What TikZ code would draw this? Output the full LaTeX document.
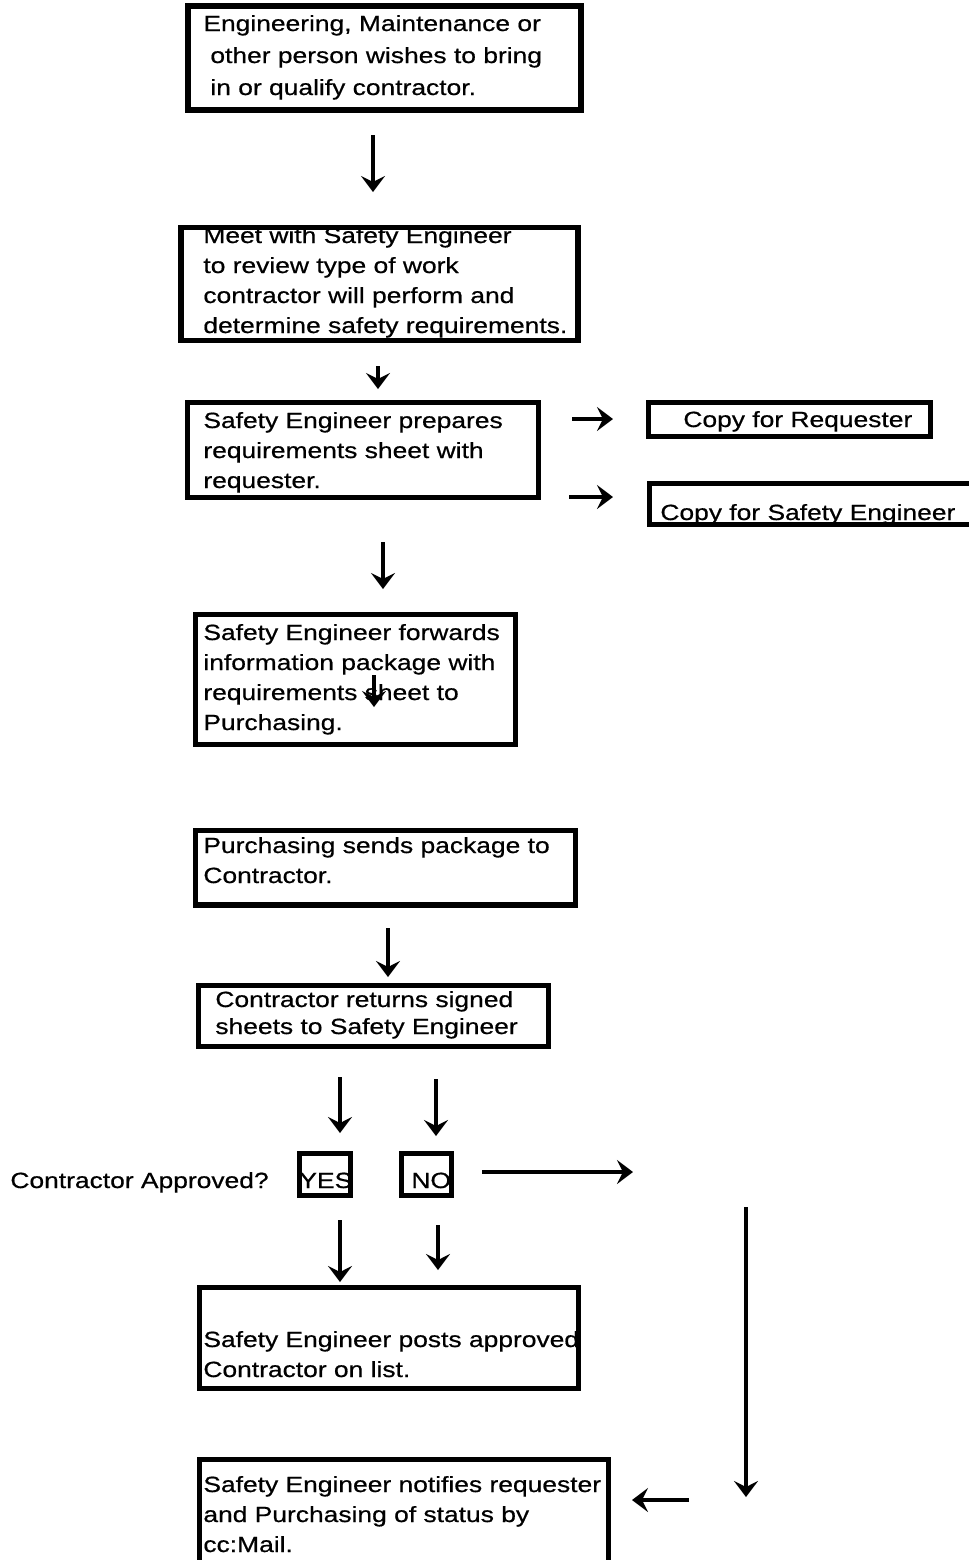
\documentclass[tikz,border=0pt]{standalone}
\usepackage{fontspec}
\newfontfamily\flowfont[FakeStretch=1.2,FakeBold=0.6]{Liberation Sans}
\usetikzlibrary{arrows.meta}
\newcommand{\boxlines}[1]{\begin{tabular}[t]{@{}l@{}}#1\end{tabular}}

\begin{document}
\begin{tikzpicture}[x=0.5pt,y=-0.5pt,
    box/.style={draw,line width=2.75pt,inner sep=0pt},
    txt/.style={anchor=base west,inner sep=0pt,font=\flowfont\fontsize{11pt}{15pt}\selectfont},
    arr/.style={line width=2.2pt,-{Stealth[length=8pt,width=12pt,inset=3pt]}}]
            \useasboundingbox (0,0) rectangle (969,1560);
            \clip (0,0) rectangle (969,1560);
            % texts
            \node[txt] (t1) at (203,31) {\boxlines{Engineering, Maintenance or\\[1pt] \hspace{3.5pt}other person wishes to bring\\[1pt] \hspace{3.5pt}in or qualify contractor.}};
            \node[txt] (t2) at (203,243) {\boxlines{Meet with Safety Engineer\\ to review type of work\\ contractor will perform and\\ determine safety requirements.}};
            \node[txt] (t3) at (203,428) {\boxlines{Safety Engineer prepares\\ requirements sheet with\\ requester.}};
            \node[txt] (tcr) at (683,427) {Copy for Requester};
            \node[txt] (tcse) at (660,520) {Copy for Safety Engineer};
            \node[txt] (t4) at (203,640) {\boxlines{Safety Engineer forwards\\ information package with\\ requirements sheet to\\ Purchasing.}};
            \node[txt] (t5) at (203,853) {\boxlines{Purchasing sends package to\\ Contractor.}};
            \node[txt] (t6) at (215,1007) {\boxlines{Contractor returns signed\\[-1.5pt] sheets to Safety Engineer}};
            \node[txt] (tq) at (10,1188) {Contractor Approved?};
            \node[txt] (tyes) at (299,1188) {YES};
            \node[txt] (tno) at (411,1188) {NO};
            \node[txt] (t7) at (203,1347) {\boxlines{Safety Engineer posts approved\\ Contractor on list.}};
            \node[txt] (t8) at (203,1492) {\boxlines{Safety Engineer notifies requester\\ and Purchasing of status by\\ cc:Mail.}};
            % boxes
            \node[box,line width=3pt,minimum width=196.5pt,minimum height=52.25pt] (b1) at (384,57.75) {};
            \node[box,minimum width=198.5pt,minimum height=56.5pt] (b2) at (379.5,284) {};
            \node[box,minimum width=175.5pt,minimum height=47.5pt] (b3) at (363,450) {};
            \node[box,minimum width=141pt,minimum height=17pt] (cr) at (789.5,419.5) {};
            \node[box,minimum width=162.5pt,minimum height=20.5pt] (cse) at (812,504) {};
            \node[box,minimum width=160pt,minimum height=65pt] (b4) at (355.5,679.5) {};
            \node[box,minimum width=190pt,minimum height=37.25pt] (b5) at (385.5,867.75) {};
            \node[box,minimum width=175pt,minimum height=30.5pt] (b6) at (373.5,1016) {};
            \node[box,minimum width=25.5pt,minimum height=21pt] (yes) at (325,1174.5) {};
            \node[box,minimum width=25pt,minimum height=21pt] (no) at (426.5,1174.5) {};
            \node[box,minimum width=189.5pt,minimum height=50.5pt] (b7) at (389,1338) {};
            \node[box,minimum width=204.5pt,minimum height=70.5pt] (b8) at (404,1530) {};
            % arrow ends
            \path (373,135) coordinate (a1s) (373,192) coordinate (a1e);
            \path (378,366) coordinate (a2s) (378,389) coordinate (a2e);
            \path (572,419) coordinate (r1s) (613,419) coordinate (r1e);
            \path (569,497) coordinate (r2s) (613,497) coordinate (r2e);
            \path (383,542) coordinate (a3s) (383,589) coordinate (a3e);
            \path (374,675) coordinate (a4s) (374,707) coordinate (a4e);
            \path (388,928) coordinate (a5s) (388,977) coordinate (a5e);
            \path (340,1077) coordinate (a6s) (340,1133) coordinate (a6e);
            \path (436,1079) coordinate (a7s) (436,1136) coordinate (a7e);
            \path (482,1172) coordinate (nos) (633,1172) coordinate (noe);
            \path (340,1220) coordinate (a8s) (340,1282) coordinate (a8e);
            \path (438,1225) coordinate (a9s) (438,1270) coordinate (a9e);
            \path (746,1207) coordinate (vs) (746,1497) coordinate (ve);
            \path (689,1500) coordinate (ls) (632,1500) coordinate (le);
            % arrows
            \draw[arr] (a1s) -- (a1e);
            \draw[arr] (a2s) -- (a2e);
            \draw[arr] (r1s) -- (r1e);
            \draw[arr] (r2s) -- (r2e);
            \draw[arr] (a3s) -- (a3e);
            \draw[arr] (a4s) -- (a4e);
            \draw[arr] (a5s) -- (a5e);
            \draw[arr] (a6s) -- (a6e);
            \draw[arr] (a7s) -- (a7e);
            \draw[arr] (nos) -- (noe);
            \draw[arr] (a8s) -- (a8e);
            \draw[arr] (a9s) -- (a9e);
            \draw[arr] (vs) -- (ve);
            \draw[arr] (ls) -- (le);
        \end{tikzpicture}
\end{document}
